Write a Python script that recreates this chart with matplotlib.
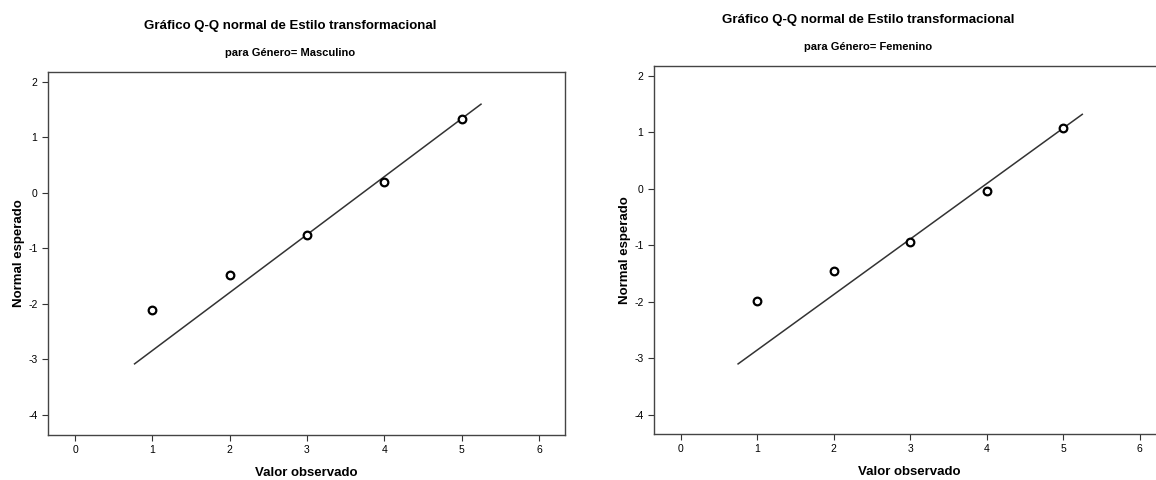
import matplotlib
matplotlib.use("Agg")
import matplotlib.pyplot as plt

plt.rcParams['font.family'] = ['Liberation Sans Narrow', 'Liberation Sans', 'DejaVu Sans']
plt.rcParams['axes.unicode_minus'] = False

# Data
x_obs = [1, 2, 3, 4, 5]
masc_expected = [-2.11, -1.47, -0.76, 0.19, 1.34]
fem_expected = [-1.98, -1.45, -0.95, -0.04, 1.08]
masc_line_x = [0.77, 5.25]
masc_line_y = [-3.08, 1.60]
fem_line_x = [0.75, 5.25]
fem_line_y = [-3.10, 1.32]
xticks = [0, 1, 2, 3, 4, 5, 6]
yticks = [-4, -3, -2, -1, 0, 1, 2]
title = "Gráfico Q-Q normal de Estilo transformacional"
subtitles = ["para Género= Masculino", "para Género= Femenino"]

fig = plt.figure(figsize=(11.56, 4.8), dpi=100)

panels = [
    dict(pos=[0.0415, 0.094, 0.4475, 0.756], xlim=(-0.35, 6.34), ylim=(-4.36, 2.18),
         y=masc_expected, lx=masc_line_x, ly=masc_line_y, sub=subtitles[0],
         tx=0.251, ty=0.945, sy=0.889),
    dict(pos=[0.5657, 0.096, 0.442, 0.767], xlim=(-0.35, 6.33), ylim=(-4.34, 2.18),
         y=fem_expected, lx=fem_line_x, ly=fem_line_y, sub=subtitles[1],
         tx=0.751, ty=0.958, sy=0.902),
]

for p in panels:
    ax = fig.add_axes(p['pos'])
    ax.plot(p['lx'], p['ly'], color='#333333', lw=1.1, zorder=2)
    ax.plot(x_obs, p['y'], linestyle='none', marker='o', markersize=5.5,
            markerfacecolor='white', markeredgecolor='black', markeredgewidth=1.6, zorder=3)
    ax.set_xlim(*p['xlim'])
    ax.set_ylim(*p['ylim'])
    ax.set_xticks(xticks)
    ax.set_yticks(yticks)
    ax.tick_params(direction='out', length=4, width=0.8, labelsize=7.5, color='#333333')
    for s in ax.spines.values():
        s.set_color('#444444')
        s.set_linewidth(1.0)
    ax.set_xlabel("Valor observado", fontsize=9.5, fontweight='bold')
    ax.set_ylabel("Normal esperado", fontsize=9.5, fontweight='bold')
    ax.xaxis.set_label_coords(0.5, -0.088)
    ax.yaxis.set_label_coords(-0.044, 0.5)
    fig.text(p['tx'], p['ty'], title, ha='center', va='center', fontsize=9.5, fontweight='bold')
    fig.text(p['tx'], p['sy'], p['sub'], ha='center', va='center', fontsize=8, fontweight='bold')

fig.savefig("out.png", dpi=100)
